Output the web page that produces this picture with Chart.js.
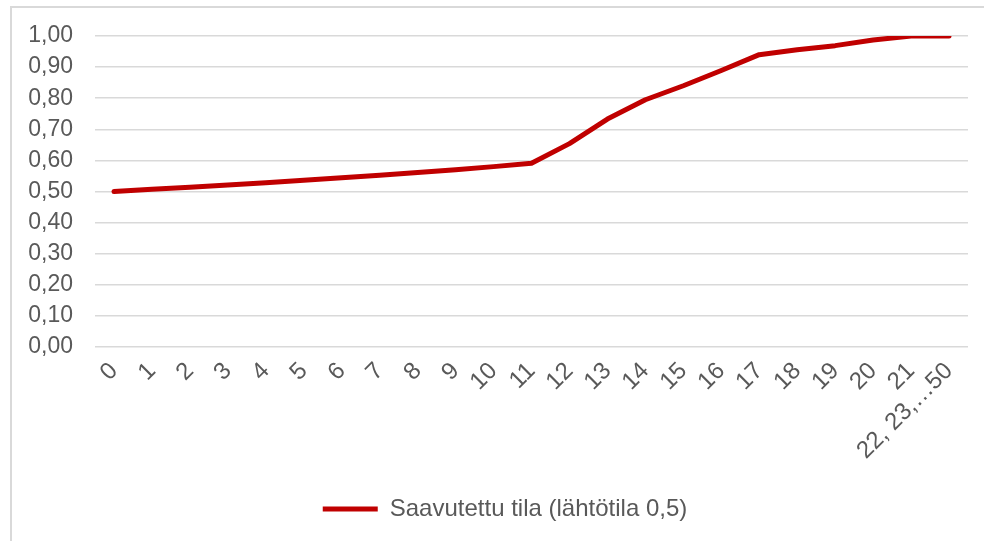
<!DOCTYPE html>
<html>
<head>
<meta charset="utf-8">
<script src="https://cdn.jsdelivr.net/npm/chart.js@4/dist/chart.umd.min.js"></script>
<style>
  html, body { margin: 0; padding: 0; background: #ffffff; overflow: hidden; }
  #frame { position: absolute; left: 10px; top: 6px; width: 1100px; height: 700px; border: 2px solid #d9d9d9; box-sizing: border-box; }
  #wrap { position: absolute; left: 0; top: 0; width: 984px; height: 541px; }
</style>
</head>
<body>
<div id="frame"></div>
<div id="wrap"><canvas id="c" width="984" height="541"></canvas></div>
<script>
const categories = ["0","1","2","3","4","5","6","7","8","9","10","11","12","13","14","15","16","17","18","19","20","21","22, 23,…50"];
const seriesName = "Saavutettu tila (lähtötila 0,5)";
const seriesValues = [0.500, 0.507, 0.514, 0.521, 0.528, 0.536, 0.544, 0.552, 0.561, 0.570, 0.580, 0.591, 0.654, 0.733, 0.795, 0.840, 0.889, 0.940, 0.956, 0.969, 0.987, 1.000, 1.000];
const yTicks = [0, 0.1, 0.2, 0.3, 0.4, 0.5, 0.6, 0.7, 0.8, 0.9, 1.0];

const textColor = '#595959';
const font = "'Liberation Sans', Arial, sans-serif";

const legendShift = {
  id: 'legendShift',
  afterLayout(chart) {
    if (chart.legend) {
      chart.legend.left += 21;
      chart.legend.right += 21;
    }
  }
};

new Chart(document.getElementById('c'), {
  type: 'line',
  data: {
    labels: categories,
    datasets: [{
      label: seriesName,
      data: seriesValues,
      borderColor: '#c00000',
      backgroundColor: '#c00000',
      borderWidth: 5,
      borderCapStyle: 'round',
      borderJoinStyle: 'round',
      pointRadius: 0,
      pointHoverRadius: 0,
      pointStyle: 'line',
      tension: 0,
      fill: false
    }]
  },
  plugins: [legendShift],
  options: {
    responsive: false,
    animation: false,
    devicePixelRatio: 1,
    layout: { padding: { left: 0, right: 16, top: 36, bottom: 10 } },
    plugins: {
      tooltip: { enabled: false },
      legend: {
        position: 'bottom',
        labels: {
          usePointStyle: true,
          pointStyleWidth: 55,
          color: textColor,
          font: { family: font, size: 24 },
          padding: 14
        }
      }
    },
    scales: {
      x: {
        offset: true,
        grid: { display: false, drawTicks: false },
        border: { display: false },
        afterFit: (scale) => { scale.height = 136; },
        ticks: {
          autoSkip: false,
          minRotation: 45,
          maxRotation: 45,
          padding: 10,
          color: textColor,
          font: { family: font, size: 24 }
        }
      },
      y: {
        min: 0,
        max: 1,
        afterBuildTicks: (scale) => { scale.ticks = yTicks.map(v => ({ value: v })); },
        afterFit: (scale) => { scale.width = 95; },
        grid: { color: '#d9d9d9', lineWidth: 1.5, drawTicks: false },
        border: { display: false },
        ticks: {
          padding: 22,
          color: textColor,
          font: { family: font, size: 23 },
          callback: (v) => Number(v).toFixed(2).replace('.', ',')
        }
      }
    }
  }
});
</script>
</body>
</html>
